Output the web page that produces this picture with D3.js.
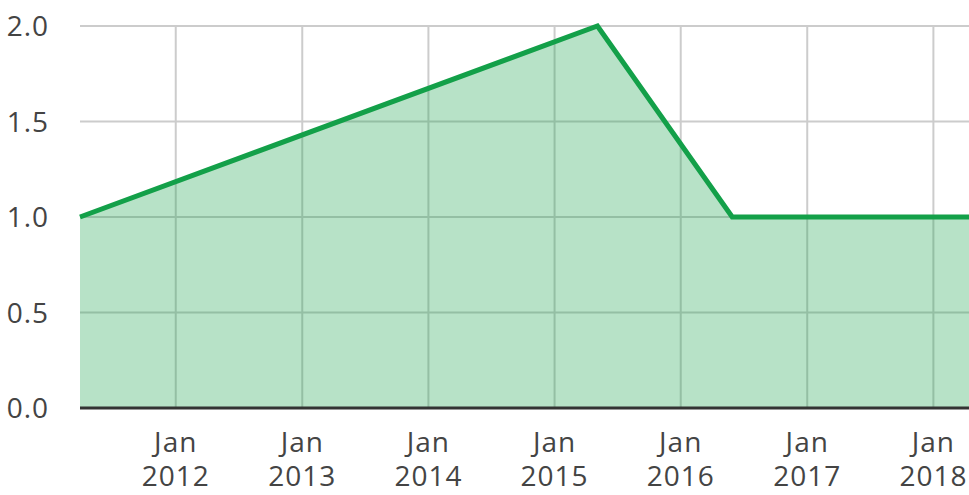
<!DOCTYPE html>
<html>
<head>
    <meta charset="utf-8">
    <title>Chart</title>
    <script src="https://cdn.jsdelivr.net/npm/d3@7"></script>
    <style>
        body { margin: 0; background: #fff; }
        text { font-family: "Open Sans", sans-serif; font-size: 28px; fill: #444; letter-spacing: 1px; }
    </style>
</head>
<body>
<script>
    // data
    var dates = ["2011-03-30", "2015-05-05", "2016-05-29", "2018-04-14"];
    var values = [1, 2, 1, 1];
    var yTicks = [0, 0.5, 1, 1.5, 2];

    var parse = d3.timeParse("%Y-%m-%d");
    var data = dates.map(function (d, i) { return { date: parse(d), value: values[i] }; });

    // svg container
    var svgWidth = 969;
    var svgHeight = 495;
    var margin = { top: 26, right: 0, bottom: 87, left: 80 };

    var svg = d3.select("body")
        .append("svg")
        .attr("width", svgWidth)
        .attr("height", svgHeight);

    var xScale = d3.scaleTime()
        .domain(d3.extent(data, function (d) { return d.date; }))
        .range([margin.left, svgWidth - margin.right]);

    var yScale = d3.scaleLinear()
        .domain([0, 2])
        .range([svgHeight - margin.bottom, margin.top]);

    var xTicks = xScale.ticks(d3.timeYear.every(1));

    // grid lines
    svg.append("g")
        .selectAll("line")
        .data(yTicks)
        .enter()
        .append("line")
        .attr("x1", margin.left)
        .attr("x2", svgWidth - margin.right)
        .attr("y1", function (d) { return yScale(d); })
        .attr("y2", function (d) { return yScale(d); })
        .attr("stroke", "#ccc")
        .attr("stroke-width", 2);

    svg.append("g")
        .selectAll("line")
        .data(xTicks)
        .enter()
        .append("line")
        .attr("x1", function (d) { return xScale(d); })
        .attr("x2", function (d) { return xScale(d); })
        .attr("y1", yScale(2))
        .attr("y2", yScale(0))
        .attr("stroke", "#ccc")
        .attr("stroke-width", 2);

    // area + line
    var area = d3.area()
        .x(function (d) { return xScale(d.date); })
        .y0(yScale(0))
        .y1(function (d) { return yScale(d.value); });

    var line = d3.line()
        .x(function (d) { return xScale(d.date); })
        .y(function (d) { return yScale(d.value); });

    svg.append("path")
        .datum(data)
        .attr("d", area)
        .attr("fill", "#16a04b")
        .attr("fill-opacity", 0.31);

    svg.append("path")
        .datum(data)
        .attr("d", line)
        .attr("fill", "none")
        .attr("stroke", "#13a049")
        .attr("stroke-width", 5)
        .attr("stroke-linejoin", "miter");

    // baseline at zero
    svg.append("line")
        .attr("x1", margin.left)
        .attr("x2", svgWidth - margin.right)
        .attr("y1", yScale(0))
        .attr("y2", yScale(0))
        .attr("stroke", "#333")
        .attr("stroke-width", 3);

    // y labels
    svg.append("g")
        .selectAll("text")
        .data(yTicks)
        .enter()
        .append("text")
        .attr("x", 49)
        .attr("y", function (d) { return yScale(d) + 10; })
        .attr("text-anchor", "end")
        .text(d3.format(".1f"));

    // x labels, month on one line, year below
    var fmtMonth = d3.timeFormat("%b");
    var fmtYear = d3.timeFormat("%Y");
    var xg = svg.append("g").attr("text-anchor", "middle");
    xg.selectAll("text.month")
        .data(xTicks)
        .enter()
        .append("text")
        .attr("class", "month")
        .attr("x", function (d) { return xScale(d); })
        .attr("y", 452)
        .text(fmtMonth);
    xg.selectAll("text.year")
        .data(xTicks)
        .enter()
        .append("text")
        .attr("class", "year")
        .attr("x", function (d) { return xScale(d); })
        .attr("y", 486)
        .text(fmtYear);
</script>
</body>
</html>
